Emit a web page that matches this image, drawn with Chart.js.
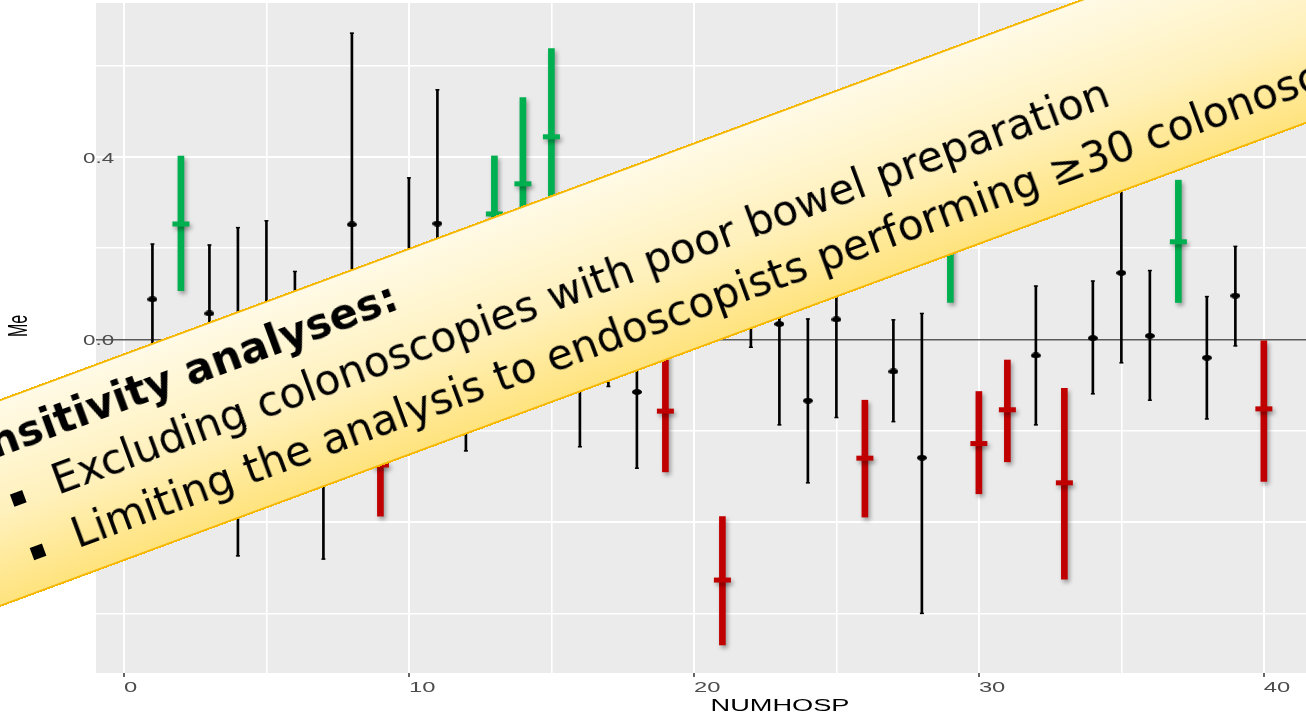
<!DOCTYPE html>
<html>
<head>
<meta charset="utf-8">
<title>Hospital effects by NUMHOSP</title>
<script src="https://cdn.jsdelivr.net/npm/chart.js@4.4.1/dist/chart.umd.min.js"></script>
<style>
  html, body { margin: 0; padding: 0; background: #ffffff; overflow: hidden; width: 1306px; height: 716px; }
  #wrap { position: absolute; left: 0; top: 0; width: 1320px; height: 716px; }
  #note {
    position: absolute; left: -297px; top: 163.5px; width: 1900px; height: 195px;
    box-sizing: border-box; border: 2px solid #F5B700;
    background: linear-gradient(to bottom, #FFFAE6 0%, #FFF1BC 55%, #FFE37E 100%);
    transform: rotate(-20.3deg);
    font-family: "DejaVu Sans", sans-serif; color: #000;
  }
  #note .ln { position: absolute; white-space: nowrap; font-size: 42.2px; line-height: 42.2px; }
  #note .head { font-weight: bold; }
  #note .sq { position: absolute; width: 13px; height: 13px; background: #000; }
</style>
</head>
<body>
<div id="wrap"><canvas id="chart" width="1320" height="716"></canvas></div>
<div id="note">
  <div class="ln head" style="left:203px; top:17px;">Sensitivity analyses:</div>
  <span class="sq" style="left:263.5px; top:91px;"></span>
  <div class="ln" style="left:309px; top:73px;">Excluding colonoscopies with poor bowel preparation</div>
  <span class="sq" style="left:263.5px; top:148px;"></span>
  <div class="ln" style="left:309px; top:130px;">Limiting the analysis to endoscopists performing ≥30 colonoscopies</div>
</div>
<script>
// Hospital-level estimates with their intervals
const hospitals = [1, 2, 3, 4, 5, 6, 7, 8, 9, 10, 11, 12, 13, 14, 15, 16, 17, 18, 19, 20,
                   21, 22, 23, 24, 25, 26, 27, 28, 29, 30, 31, 32, 33, 34, 35, 36, 37, 38, 39, 40];
const estimate = [0.088, 0.253, 0.057, -0.115, 0.03, -0.02, -0.215, 0.252, -0.275, 0.06,
                  0.254, -0.05, 0.275, 0.341, 0.444, -0.05, 0.03, -0.115, -0.157, 0.18,
                  -0.527, 0.1, 0.034, -0.134, 0.044, -0.26, -0.07, -0.259, 0.23, -0.228,
                  -0.154, -0.035, -0.314, 0.003, 0.146, 0.008, 0.214, -0.04, 0.096, -0.152];
const lower = [-0.033, 0.107, -0.093, -0.474, -0.2, -0.19, -0.481, -0.167, -0.387, -0.23,
               -0.04, -0.244, 0.148, 0.152, 0.25, -0.235, -0.103, -0.282, -0.29, 0.05,
               -0.669, -0.017, -0.187, -0.314, -0.171, -0.389, -0.18, -0.6, 0.081, -0.338,
               -0.268, -0.187, -0.525, -0.119, -0.051, -0.133, 0.081, -0.174, -0.014, -0.311];
const upper = [0.209, 0.402, 0.207, 0.245, 0.26, 0.149, 0.05, 0.671, -0.163, 0.354,
               0.547, 0.14, 0.402, 0.53, 0.637, 0.135, 0.16, 0.052, -0.024, 0.31,
               -0.388, 0.22, 0.255, 0.045, 0.26, -0.133, 0.043, 0.057, 0.38, -0.114,
               -0.045, 0.117, -0.107, 0.128, 0.343, 0.151, 0.349, 0.094, 0.204, -0.003];
// 'above' / 'below': interval entirely above / below zero; 'ns': interval crosses zero
const signal = ['ns', 'above', 'ns', 'ns', 'ns', 'ns', 'ns', 'ns', 'below', 'ns',
                'ns', 'ns', 'above', 'above', 'above', 'ns', 'ns', 'ns', 'below', 'ns',
                'below', 'ns', 'ns', 'ns', 'ns', 'below', 'ns', 'ns', 'above', 'below',
                'below', 'ns', 'below', 'ns', 'ns', 'ns', 'above', 'ns', 'ns', 'below'];
const xTicks = [0, 5, 10, 15, 20, 25, 30, 35, 40];
const yTicks = [-0.6, -0.4, -0.2, 0, 0.2, 0.4, 0.6];

const GREEN = '#00B050';
const RED = '#C00000';

const pick = g => hospitals.map((h, i) => i).filter(i => signal[i] === g);
const intervals = idx => idx.map(i => ({ x: hospitals[i], y: [lower[i], upper[i]] }));
const points = idx => idx.map(i => ({ x: hospitals[i], y: estimate[i] }));
const capEnds = idx => idx.flatMap(i => [{ x: hospitals[i], y: lower[i] }, { x: hospitals[i], y: upper[i] }]);

const nsIdx = pick('ns'), aboveIdx = pick('above'), belowIdx = pick('below');

// small horizontally-elongated dot for the plain estimates
function ellipseDot(w, h) {
  const c = document.createElement('canvas');
  c.width = w; c.height = h;
  const g = c.getContext('2d');
  g.fillStyle = '#000';
  g.beginPath();
  g.ellipse(w / 2, h / 2, w / 2, h / 2, 0, 0, Math.PI * 2);
  g.fill();
  return c;
}

// grey panel behind the plotting area
const panelPlugin = {
  id: 'panel',
  beforeDraw(chart) {
    const { ctx, chartArea: a } = chart;
    ctx.save();
    ctx.fillStyle = '#EBEBEB';
    ctx.fillRect(a.left, a.top, a.right - a.left, a.bottom - a.top);
    ctx.restore();
  }
};

// soft drop shadow under the highlighted intervals
const shadowPlugin = {
  id: 'markShadow',
  beforeDatasetDraw(chart, args) {
    if (chart.data.datasets[args.index].shadow) {
      const c = chart.ctx;
      c.save();
      c.shadowColor = 'rgba(0,0,0,0.35)';
      c.shadowBlur = 4;
      c.shadowOffsetX = 2;
      c.shadowOffsetY = 3;
    }
  },
  afterDatasetDraw(chart, args) {
    if (chart.data.datasets[args.index].shadow) chart.ctx.restore();
  }
};

// axis text is drawn horizontally widened around its anchor point
function stretchText(scale, method, k, dx, dy) {
  const orig = scale[method];
  scale[method] = function (...args) {
    const ctx = this.ctx;
    const fill = CanvasRenderingContext2D.prototype.fillText;
    ctx.fillText = function (text, x, y) {
      const m = ctx.getTransform();
      const p = m.transformPoint(new DOMPoint(x, y));
      const t = new DOMMatrix().translate(p.x + dx, p.y + dy).scale(k, 1).translate(-p.x, -p.y).multiply(m);
      ctx.save();
      ctx.setTransform(t);
      fill.call(ctx, text, x, y);
      ctx.restore();
    };
    try { return orig.apply(this, args); } finally { delete ctx.fillText; }
  };
}
const axisTextPlugin = {
  id: 'axisText',
  beforeDraw(chart) {
    if (chart.$wideText) return;
    chart.$wideText = true;
    const { x, y } = chart.scales;
    stretchText(x, 'drawLabels', 1.7, 0, 0);
    stretchText(x, 'drawTitle', 1.7, 72, 0);
    stretchText(y, 'drawLabels', 1.6, 0, 2);
    stretchText(y, 'drawTitle', 1.7, 0, -12);
  }
};

const tickFont = { family: 'Liberation Sans', size: 14 };
const titleFont = { family: 'Liberation Sans', size: 16 };

new Chart(document.getElementById('chart'), {
  type: 'scatter',
  data: {
    datasets: [
      { type: 'scatter', data: points(belowIdx), pointStyle: 'line', pointRadius: 8.5,
        pointBorderWidth: 5, pointBorderColor: RED, pointBackgroundColor: RED, order: 0, shadow: true },
      { type: 'scatter', data: points(aboveIdx), pointStyle: 'line', pointRadius: 8.5,
        pointBorderWidth: 5, pointBorderColor: GREEN, pointBackgroundColor: GREEN, order: 0, shadow: true },
      { type: 'bar', data: intervals(belowIdx), backgroundColor: RED, barThickness: 6,
        grouped: false, borderWidth: 0, order: 1, shadow: true },
      { type: 'bar', data: intervals(aboveIdx), backgroundColor: GREEN, barThickness: 6,
        grouped: false, borderWidth: 0, order: 1, shadow: true },
      { type: 'scatter', data: points(nsIdx), pointStyle: ellipseDot(10, 6), pointRadius: 5, order: 2 },
      { type: 'scatter', data: capEnds(nsIdx), pointStyle: 'line', pointRadius: 2,
        pointBorderWidth: 1.5, pointBorderColor: '#000', order: 3 },
      { type: 'bar', data: intervals(nsIdx), backgroundColor: '#000', barThickness: 2,
        grouped: false, borderWidth: 0, order: 4 }
    ]
  },
  options: {
    responsive: false,
    animation: false,
    events: [],
    devicePixelRatio: 1,
    layout: { autoPadding: false, padding: { top: 3, right: 0, bottom: 0, left: 0 } },
    plugins: { legend: { display: false }, tooltip: { enabled: false } },
    scales: {
      x: {
        type: 'linear', min: -0.98, max: 41.97, offset: false,
        afterBuildTicks: s => { s.ticks = xTicks.map(v => ({ value: v })); },
        afterFit: s => { s.height = 43; s.paddingLeft = 0; s.paddingRight = 0; },
        border: { display: false },
        grid: {
          offset: false,
          color: '#FFFFFF',
          lineWidth: c => (c.tick && c.tick.value % 10 === 0 ? 2 : 1.6),
          drawTicks: true, tickLength: 4, tickWidth: 1.5,
          tickColor: c => (c.tick && c.tick.value % 10 === 0 ? '#333333' : 'rgba(0,0,0,0)')
        },
        ticks: {
          autoSkip: false, maxRotation: 0, minRotation: 0, align: 'start', padding: 3,
          color: '#4D4D4D', font: tickFont,
          callback: v => (v % 10 === 0 ? String(v) : '')
        },
        title: { display: true, text: 'NUMHOSP', color: '#000', font: titleFont, padding: { top: 0, bottom: 0 } }
      },
      y: {
        type: 'linear', min: -0.7306, max: 0.7371,
        afterBuildTicks: s => { s.ticks = yTicks.map(v => ({ value: v })); },
        afterFit: s => { s.width = 96; s.paddingTop = 0; s.paddingBottom = 0; },
        border: { display: false },
        grid: {
          offset: false,
          color: c => (c.tick && c.tick.value === 0 ? '#5A5A5A' : '#FFFFFF'),
          lineWidth: c => (c.tick && c.tick.value === 0 ? 1.5 : (Math.round(c.tick.value * 10) % 4 === 0 ? 2 : 1.6)),
          drawTicks: false
        },
        ticks: {
          mirror: true, padding: -13, crossAlign: 'near', color: '#4D4D4D', font: tickFont,
          callback: v => (Math.round(v * 10) % 4 === 0 ? v.toFixed(1) : '')
        },
        title: { display: true, text: 'Me', color: '#000', font: titleFont, padding: { top: 10, bottom: 0 } }
      }
    }
  },
  plugins: [panelPlugin, shadowPlugin, axisTextPlugin]
});
</script>
</body>
</html>
